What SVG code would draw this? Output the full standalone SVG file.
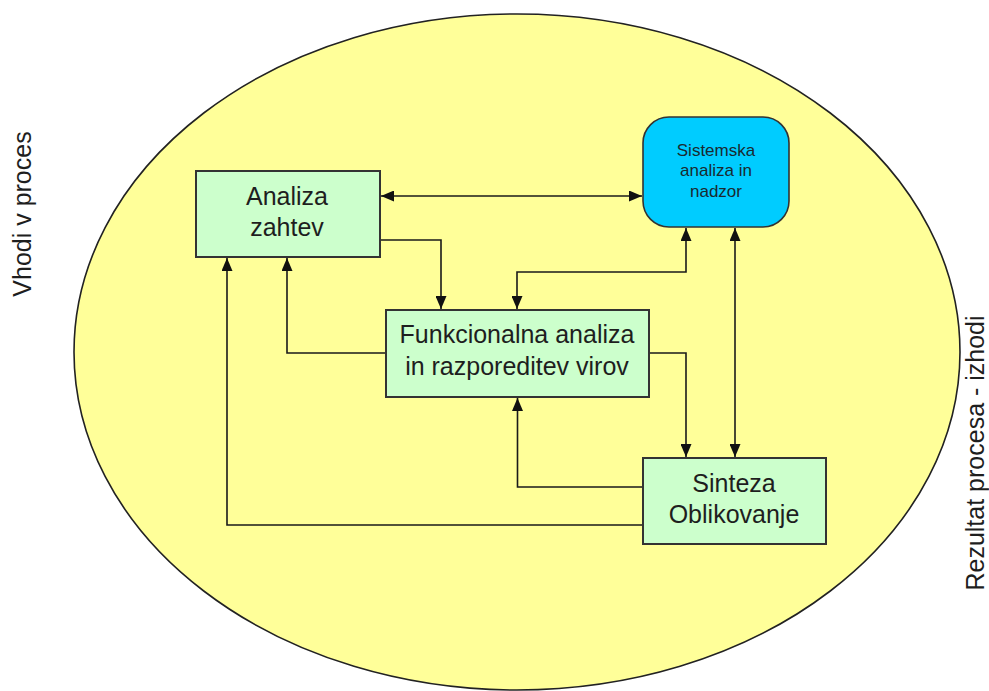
<svg xmlns="http://www.w3.org/2000/svg" width="989" height="691" viewBox="0 0 989 691">
  <style>
    .box { fill: #ccffcc; stroke: #333333; stroke-width: 2; }
    .ctrl { fill: #00ccff; stroke: #333333; stroke-width: 1.6; }
    .lbl { font-family: "Liberation Sans", Arial, sans-serif; font-size: 25px; fill: #1e1e1e; text-anchor: middle; }
    .small { font-family: "Liberation Sans", Arial, sans-serif; font-size: 17px; fill: #1a2a30; text-anchor: middle; }
    .side { font-family: "Liberation Sans", Arial, sans-serif; font-size: 25px; fill: #1e1e1e; text-anchor: middle; }
    .conn path { fill: none; stroke: #1a1a1a; stroke-width: 1.6; }
    .both { marker-start: url(#arrow); marker-end: url(#arrow); }
    .one { marker-end: url(#arrow); }
  </style>
  <defs>
    <marker id="arrow" markerUnits="userSpaceOnUse" markerWidth="13" markerHeight="11" refX="13" refY="5.5" orient="auto-start-reverse">
      <path d="M0,0 L13,5.5 L0,11 z" fill="#111111"/>
    </marker>
  </defs>

  <rect width="989" height="691" fill="#ffffff"/>

  <!-- process boundary -->
  <ellipse cx="517" cy="352" rx="443" ry="338" fill="#ffff99" stroke="#222222" stroke-width="1.6"/>

  <!-- side labels -->
  <text class="side" transform="translate(31,214) rotate(-90)">Vhodi v proces</text>
  <text class="side" transform="translate(984,453) rotate(-90)">Rezultat procesa - izhodi</text>

  <!-- connectors -->
  <g id="connectors" class="conn">
    <path class="both" d="M381,196 H642"/>
    <path class="one" d="M380,240 H441 V309"/>
    <path class="both" d="M686,228 V272 H517 V309"/>
    <path class="both" d="M735,228 V457"/>
    <path class="one" d="M649,353 H686 V457"/>
    <path class="one" d="M386,353 H287 V258"/>
    <path class="one" d="M643,487 H517.5 V398"/>
    <path class="one" d="M643,525 H227 V258"/>
  </g>

  <!-- nodes -->
  <g id="analiza-zahtev">
    <rect class="box" x="196" y="171" width="184" height="86"/>
    <text class="lbl" x="287" y="205">Analiza</text>
    <text class="lbl" x="287" y="236">zahtev</text>
  </g>

  <g id="sistemska-analiza">
    <rect class="ctrl" x="643" y="117" width="146" height="110" rx="26" ry="26"/>
    <text class="small" x="716" y="156">Sistemska</text>
    <text class="small" x="716" y="176">analiza in</text>
    <text class="small" x="716" y="197">nadzor</text>
  </g>

  <g id="funkcionalna-analiza">
    <rect class="box" x="386" y="310" width="263" height="87"/>
    <text class="lbl" x="517" y="343">Funkcionalna analiza</text>
    <text class="lbl" x="517" y="375">in razporeditev virov</text>
  </g>

  <g id="sinteza">
    <rect class="box" x="643" y="458" width="183" height="86"/>
    <text class="lbl" x="734" y="492">Sinteza</text>
    <text class="lbl" x="734" y="523">Oblikovanje</text>
  </g>
</svg>
